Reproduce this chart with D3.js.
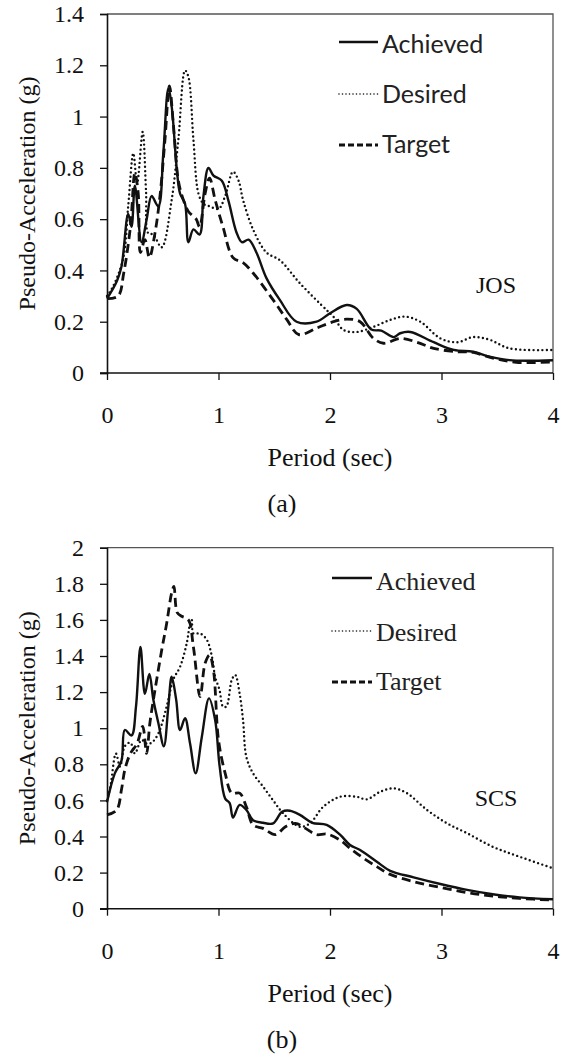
<!DOCTYPE html>
<html>
<head>
<meta charset="utf-8">
<script src="https://cdn.jsdelivr.net/npm/d3@7"></script>
<style>
  body { margin: 0; background: #fff; }
  svg { display: block; }
</style>
</head>
<body>
<script>
// ---- data ----
const periodTicks = [0, 1, 2, 3, 4];
const accTicksA = [0, 0.2, 0.4, 0.6, 0.8, 1, 1.2, 1.4];
const accTicksB = [0, 0.2, 0.4, 0.6, 0.8, 1, 1.2, 1.4, 1.6, 1.8, 2];
const seriesNames = ["Achieved", "Desired", "Target"];

// (a) JOS
const josAchievedT = [0, .09, .13, .19, .22, .25, .31, .356, .40, .46, .505, .55, .58, .625, .655, .70, .73, .775, .83, .865, .91, .955, 1.03, 1.09, 1.16, 1.21, 1.27, 1.34, 1.43, 1.55, 1.70, 1.88, 2.0, 2.15, 2.24, 2.37, 2.46, 2.57, 2.63, 2.72, 2.93, 3.11, 3.285, 3.43, 3.61, 4.0];
const josAchievedV = [.29, .36, .415, .62, .57, .73, .51, .60, .69, .65, .857, 1.11, 1.04, .80, .70, .66, .51, .56, .54, .69, .80, .77, .75, .67, .55, .51, .52, .47, .37, .285, .20, .20, .233, .265, .25, .17, .165, .14, .155, .16, .12, .09, .083, .064, .05, .05];
const josDesiredT = [0, .057, .147, .19, .236, .27, .32, .35, .37, .415, .49, .58, .64, .70, .73, .775, .82, .865, .92, 1.0, 1.06, 1.13, 1.18, 1.22, 1.31, 1.43, 1.55, 1.73, 1.97, 2.03, 2.12, 2.24, 2.39, 2.54, 2.67, 2.81, 2.99, 3.14, 3.285, 3.43, 3.61, 4.0];
const josDesiredV = [.30, .34, .45, .65, .857, .74, .94, .71, .545, .54, .49, .675, .91, 1.18, 1.155, .91, .70, .66, .65, .64, .69, .785, .75, .675, .56, .47, .44, .35, .245, .22, .168, .16, .18, .207, .22, .20, .135, .12, .14, .13, .096, .09];
const josTargetT = [0, .10, .15, .21, .25, .28, .30, .34, .38, .43, .475, .52, .56, .595, .64, .685, .73, .80, .83, .88, .92, .97, 1.04, 1.13, 1.22, 1.31, 1.49, 1.61, 1.72, 1.88, 2.03, 2.15, 2.27, 2.39, 2.48, 2.63, 2.78, 2.93, 3.14, 3.285, 3.47, 3.67, 4.0];
const josTargetV = [.29, .30, .39, .57, .78, .70, .47, .52, .45, .545, .69, .91, 1.12, .97, .75, .675, .63, .60, .57, .70, .76, .675, .57, .45, .43, .39, .285, .21, .15, .175, .20, .21, .20, .135, .116, .135, .12, .096, .083, .08, .057, .042, .043];

// (b) SCS
const scsAchievedT = [0, .07, .13, .16, .22, .26, .30, .34, .38, .415, .46, .51, .55, .58, .62, .655, .70, .745, .795, .85, .915, .97, 1.01, 1.06, 1.10, 1.13, 1.19, 1.25, 1.31, 1.40, 1.49, 1.57, 1.64, 1.73, 1.84, 1.97, 2.09, 2.18, 2.27, 2.42, 2.54, 2.75, 2.99, 3.23, 3.46, 3.70, 4.0];
const scsAchievedV = [.59, .75, .82, .99, .96, 1.12, 1.45, 1.19, 1.30, 1.16, 1.03, .90, 1.12, 1.285, 1.16, .99, 1.055, .915, .75, .95, 1.165, 1.045, .79, .61, .585, .505, .575, .547, .49, .476, .473, .537, .543, .52, .476, .464, .41, .353, .325, .26, .21, .174, .137, .104, .08, .063, .052];
const scsDesiredT = [0, .03, .08, .117, .16, .21, .25, .31, .355, .40, .46, .535, .595, .655, .715, .745, .76, .775, .835, .895, .94, .97, 1.01, 1.04, 1.07, 1.12, 1.15, 1.19, 1.22, 1.25, 1.31, 1.40, 1.49, 1.58, 1.73, 1.82, 1.94, 2.09, 2.24, 2.33, 2.45, 2.57, 2.69, 2.87, 3.05, 3.23, 3.46, 3.70, 4.0];
const scsDesiredV = [.60, .675, .86, .787, .90, .92, .86, .935, .915, .92, .97, 1.12, 1.27, 1.34, 1.47, 1.58, 1.60, 1.525, 1.525, 1.49, 1.40, 1.285, 1.21, 1.12, 1.12, 1.27, 1.295, 1.19, 1.045, .84, .75, .676, .60, .528, .454, .473, .565, .62, .62, .606, .648, .667, .64, .547, .473, .418, .343, .288, .224];
const scsTargetT = [0, .087, .13, .16, .21, .27, .32, .355, .385, .43, .49, .535, .58, .60, .63, .67, .73, .775, .835, .88, .92, .955, 1.0, 1.06, 1.12, 1.19, 1.25, 1.31, 1.40, 1.51, 1.60, 1.69, 1.78, 1.88, 1.97, 2.09, 2.18, 2.30, 2.42, 2.54, 2.75, 2.99, 3.23, 3.46, 3.70, 4.0];
const scsTargetV = [.52, .547, .66, .77, .86, .915, 1.01, .86, 1.03, 1.21, 1.43, 1.58, 1.75, 1.785, 1.64, 1.62, 1.60, 1.45, 1.175, 1.36, 1.405, 1.32, .935, .75, .64, .64, .565, .464, .445, .41, .454, .473, .445, .41, .414, .38, .335, .28, .233, .19, .15, .118, .089, .07, .057, .048];

const W = 571, H = 1057;
const serif = "'Liberation Serif', 'Times New Roman', serif";

const styles = {
    Achieved: {width: 2.4, dash: null, cap: "butt"},
    Desired:  {width: 2.4, dash: "0,4.4", cap: "round"},
    Target:   {width: 2.8, dash: "9,5", cap: "butt"}
};

function zip(ts, vs){
    return ts.map((t, i) => ({t: t, v: vs[i]}));
}

const svg = d3.select("body").append("svg")
    .attr("width", W)
    .attr("height", H);

svg.append("rect").attr("width", W).attr("height", H).attr("fill", "#fff");

function drawPanel(cfg){
    const x = d3.scaleLinear().domain([0, 4]).range([107, 553]);
    const y = d3.scaleLinear().domain([0, cfg.yMax]).range([cfg.bottom, cfg.top]);
    const g = svg.append("g");

    // frame (top and right)
    g.append("path")
        .attr("d", `M${x(0)},${y(cfg.yMax)}H${x(4)}V${y(0)}`)
        .attr("fill", "none")
        .attr("stroke", "#555")
        .attr("stroke-width", 1.3);

    const fmt = d => String(+d.toFixed(1));

    const yAxis = g.append("g")
        .attr("transform", `translate(${x(0)},0)`)
        .call(d3.axisLeft(y).tickValues(cfg.yTicks).tickFormat(fmt).tickSize(7).tickPadding(16));
    const xAxis = g.append("g")
        .attr("transform", `translate(0,${y(0)})`)
        .call(d3.axisBottom(x).tickValues(periodTicks).tickFormat(d3.format("d")).tickSize(7).tickPadding(26));

    [yAxis, xAxis].forEach(a => {
        a.select(".domain").attr("stroke", "#111").attr("stroke-width", 1.6);
        a.selectAll(".tick line").attr("stroke", "#111").attr("stroke-width", 1.3);
        a.selectAll("text")
            .attr("fill", "#111")
            .style("font-family", serif)
            .style("font-size", "24px");
    });
    xAxis.select(".domain").attr("d", `M${x(0) - 7},0H${x(4)}`);

    // curves
    const line = d3.line()
        .x(d => x(d.t))
        .y(d => y(d.v))
        .curve(d3.curveCatmullRom.alpha(0.5));

    cfg.series.forEach(s => {
        const st = styles[s.name];
        g.append("path")
            .datum(s.data)
            .attr("d", line)
            .attr("fill", "none")
            .attr("stroke", "#111")
            .attr("stroke-width", st.width)
            .attr("stroke-dasharray", st.dash)
            .attr("stroke-linecap", st.cap)
            .attr("stroke-linejoin", "round");
    });

    // axis titles
    const midY = (cfg.top + cfg.bottom) / 2;
    g.append("text")
        .attr("transform", `translate(35,${midY}) rotate(-90)`)
        .attr("text-anchor", "middle")
        .style("font-family", serif)
        .style("font-size", "24px")
        .attr("fill", "#111")
        .text("Pseudo-Acceleration (g)");

    g.append("text")
        .attr("x", (x(0) + x(4)) / 2)
        .attr("y", y(0) + 93)
        .attr("text-anchor", "middle")
        .style("font-family", serif)
        .style("font-size", "26px")
        .attr("fill", "#111")
        .text("Period (sec)");

    g.append("text")
        .attr("x", 282)
        .attr("y", y(0) + 139)
        .attr("text-anchor", "middle")
        .style("font-family", serif)
        .style("font-size", "26px")
        .attr("fill", "#111")
        .text(cfg.caption);

    g.append("text")
        .attr("x", 496)
        .attr("y", cfg.tagY)
        .attr("text-anchor", "middle")
        .style("font-family", serif)
        .style("font-size", "24px")
        .attr("fill", "#111")
        .text(cfg.tag);

    // legend
    const leg = g.append("g");
    seriesNames.forEach((name, i) => {
        const st = styles[name];
        const ly = cfg.legend.rows[i];
        leg.append("line")
            .attr("x1", cfg.legend.x1).attr("x2", cfg.legend.x2)
            .attr("y1", ly).attr("y2", ly)
            .attr("stroke", "#111")
            .attr("stroke-width", name === "Desired" ? 1.6 : st.width)
            .attr("stroke-dasharray", name === "Desired" ? "0,3.5" : (name === "Target" ? "6,3" : null))
            .attr("stroke-linecap", st.cap);
        leg.append("text")
            .attr("x", cfg.legend.x2 + 4)
            .attr("y", ly + cfg.legend.dy[i])
            .style("font-family", cfg.legend.font)
            .style("font-size", cfg.legend.size)
            .attr("fill", "#222")
            .text(name);
    });
}

drawPanel({
    top: 14, bottom: 373, yMax: 1.4, yTicks: accTicksA,
    caption: "(a)", tag: "JOS", tagY: 293,
    series: [
        {name: "Achieved", data: zip(josAchievedT, josAchievedV)},
        {name: "Desired", data: zip(josDesiredT, josDesiredV)},
        {name: "Target", data: zip(josTargetT, josTargetV)}
    ],
    legend: {x1: 339, x2: 378, rows: [42, 94, 145], dy: [11, 9, 8],
             font: "Lato, 'Open Sans', sans-serif", size: "25px"}
});

drawPanel({
    top: 547.7, bottom: 908.7, yMax: 2, yTicks: accTicksB,
    caption: "(b)", tag: "SCS", tagY: 806,
    series: [
        {name: "Achieved", data: zip(scsAchievedT, scsAchievedV)},
        {name: "Desired", data: zip(scsDesiredT, scsDesiredV)},
        {name: "Target", data: zip(scsTargetT, scsTargetV)}
    ],
    legend: {x1: 332, x2: 372, rows: [578, 631, 682], dy: [12, 10, 8],
             font: serif, size: "26px"}
});
</script>
</body>
</html>
